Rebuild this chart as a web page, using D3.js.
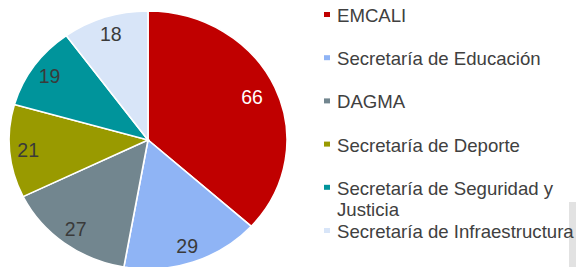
<!DOCTYPE html>
<html>
<head>
<meta charset="utf-8">
<script src="https://cdn.jsdelivr.net/npm/d3@7"></script>
<style>
  body { margin: 0; background: #fff; }
  svg { display: block; font-family: "Liberation Sans", Arial, sans-serif; }
</style>
</head>
<body>
<div id="chart"></div>
<script>
// data
var categories = ["EMCALI", "Secretaría de Educación", "DAGMA", "Secretaría de Deporte",
                  "Secretaría de Seguridad y Justicia", "Secretaría de Infraestructura"];
var values = [66, 29, 27, 21, 19, 18];
var colors = ["#c00000", "#8fb4f5", "#72868f", "#999a00", "#00949b", "#d8e5f8"];
var labelColors = ["#ffffff", "#3a3a3a", "#3a3a3a", "#3a3a3a", "#3a3a3a", "#3a3a3a"];
var legendLines = [["EMCALI"], ["Secretaría de Educación"], ["DAGMA"], ["Secretaría de Deporte"],
                   ["Secretaría de Seguridad y", "Justicia"], ["Secretaría de Infraestructura"]];

var width = 576, height = 267;
var cx = 148, cy = 140, r = 129, sx = 139 / 129;

var svg = d3.select("#chart")
  .append("svg")
    .attr("width", width)
    .attr("height", height);

// faint scan artifact at right edge
svg.append("rect")
  .attr("x", 569).attr("y", 202).attr("width", 7).attr("height", 65)
  .attr("fill", "#e2e2e2");

var pie = d3.pie().sort(null).value(function(d) { return d; });
var arcs = pie(values);
var arc = d3.arc().innerRadius(0).outerRadius(r);

var g = svg.append("g")
  .attr("transform", "translate(" + cx + "," + cy + ") scale(" + sx + ",1)");

g.selectAll("path")
  .data(arcs)
  .enter()
  .append("path")
    .attr("d", arc)
    .attr("fill", function(d, i) { return colors[i]; })
    .attr("stroke", "#fff")
    .attr("stroke-width", 1.5);

// label position: near the outer edge, a bit further in for the big slice
function labelPos(d) {
  var k = (d.endAngle - d.startAngle) > Math.PI / 2 ? 0.82 : 0.865;
  var a = (d.startAngle + d.endAngle) / 2;
  return [cx + Math.sin(a) * r * k * sx, cy - Math.cos(a) * r * k];
}

svg.append("g")
  .selectAll("text")
  .data(arcs)
  .enter()
  .append("text")
    .attr("x", function(d) { return labelPos(d)[0]; })
    .attr("y", function(d) { return labelPos(d)[1]; })
    .attr("text-anchor", "middle")
    .attr("dominant-baseline", "central")
    .style("font-size", "19.5px")
    .attr("fill", function(d, i) { return labelColors[i]; })
    .text(function(d) { return d.data; });

// legend
var legend = svg.append("g");
legendLines.forEach(function(lines, i) {
  var y = 15 + i * 43.2;
  legend.append("rect")
    .attr("x", 324).attr("y", y - 3)
    .attr("width", 6).attr("height", 5)
    .attr("fill", colors[i]);
  var t = legend.append("text")
    .attr("x", 337)
    .attr("y", y)
    .attr("dominant-baseline", "central")
    .style("font-size", "18.6px")
    .attr("fill", "#404040");
  lines.forEach(function(line, j) {
    t.append("tspan").attr("x", 337).attr("dy", j === 0 ? 0 : 21).text(line);
  });
});
</script>
</body>
</html>
